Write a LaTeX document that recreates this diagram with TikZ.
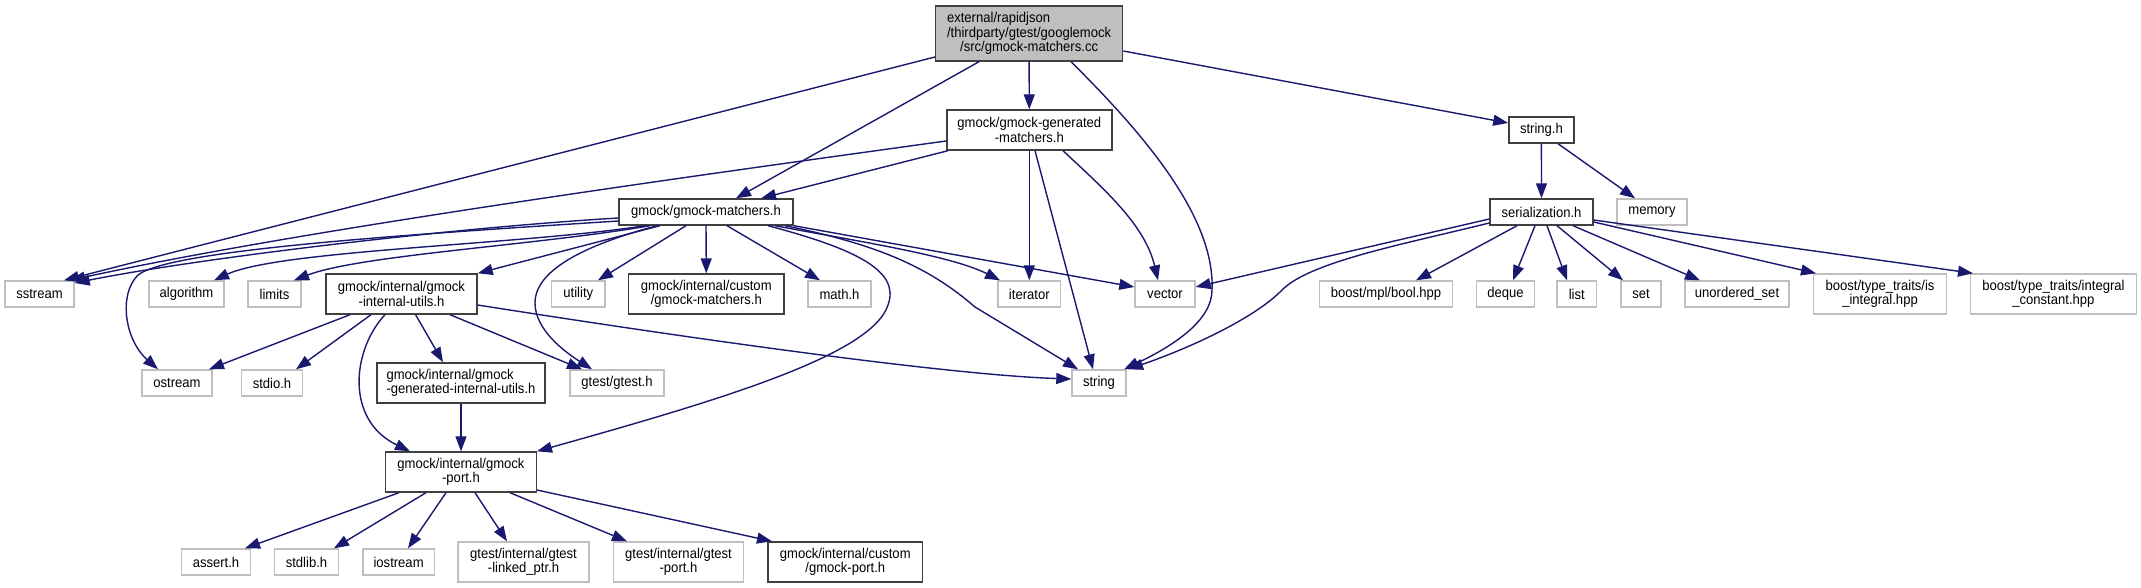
\documentclass[tikz,border=0pt]{standalone}
\usepackage{fontspec}
\setmainfont{Liberation Sans}[FakeStretch=0.92]
\usetikzlibrary{arrows.meta,calc}
\definecolor{edgecol}{HTML}{191970}
\definecolor{docborder}{HTML}{404040}
\definecolor{extborder}{HTML}{BFBFBF}
\definecolor{rootfill}{HTML}{BFBFBF}
\tikzset{
  basebox/.style={rectangle, line width=1.4pt, inner sep=0pt, align=center,
    font=\fontsize{14.2}{14.6}\selectfont, text=black},
  docbox/.style={basebox, draw=docborder, fill=white},
  extbox/.style={basebox, draw=extborder, fill=white},
  rootbox/.style={basebox, draw=docborder, fill=rootfill},
  dep/.style={draw=edgecol, line width=1.4pt, -{Triangle[length=15pt,width=11pt]}},
}
\newcommand{\bx}[7]{\node[#1, minimum width=#5pt, minimum height=#6pt] (#2) at (#3,#4) {#7};}
\begin{document}
\begin{tikzpicture}[x=1pt,y=-1pt]
\useasboundingbox (0,0) rectangle (2141,588);
% nodes
\bx{rootbox}{root}{1029.1}{33.5}{187}{55}{\makebox[0pt][l]{external/rapidjson}\phantom{/thirdparty/gtest/googlemock}\\/thirdparty/gtest/googlemock\\/src/gmock-matchers.cc}
\bx{docbox}{gen}{1029.3}{130}{165}{40}{gmock/gmock-generated\\-matchers.h}
\bx{docbox}{stringh}{1541.4}{130}{65}{26}{string.h}
\bx{docbox}{matchers}{706}{212}{174}{26}{gmock/gmock-matchers.h}
\bx{docbox}{serial}{1541.5}{212}{103}{26}{serialization.h}
\bx{extbox}{memory}{1652}{212}{70}{26}{memory}
\bx{extbox}{sstream}{39.5}{294}{69}{26}{sstream}
\bx{extbox}{algorithm}{186.5}{294}{75}{26}{algorithm}
\bx{extbox}{limits}{274.5}{294}{53}{26}{limits}
\bx{docbox}{iutils}{401.5}{294}{151}{40}{gmock/internal/gmock\\-internal-utils.h}
\bx{extbox}{utility}{578.3}{294}{53.5}{26}{utility}
\bx{docbox}{cmatchers}{706.3}{294}{155.4}{40}{gmock/internal/custom\\/gmock-matchers.h}
\bx{extbox}{math}{839.5}{294}{63}{26}{math.h}
\bx{extbox}{iterator}{1029.3}{294}{62.5}{26}{iterator}
\bx{extbox}{vector}{1165}{294}{60}{26}{vector}
\bx{extbox}{bool}{1386}{294}{132.5}{26}{boost/mpl/bool.hpp}
\bx{extbox}{deque}{1505.4}{294}{57.6}{26}{deque}
\bx{extbox}{list}{1576.8}{294}{39.6}{26}{list}
\bx{extbox}{set}{1641}{294}{40}{26}{set}
\bx{extbox}{uset}{1737}{294}{104}{26}{unordered\_set}
\bx{extbox}{isint}{1880}{294}{133}{40}{boost/type\_traits/is\\\_integral.hpp}
\bx{extbox}{intc}{2053.4}{294}{166}{40}{boost/type\_traits/integral\\\_constant.hpp}
\bx{extbox}{ostream}{177}{383}{70}{26}{ostream}
\bx{extbox}{stdio}{272}{383}{61}{26}{stdio.h}
\bx{docbox}{giutils}{461}{383}{168}{40}{\makebox[0pt][l]{gmock/internal/gmock}\phantom{-generated-internal-utils.h}\\-generated-internal-utils.h}
\bx{extbox}{gtest}{617}{383}{94}{26}{gtest/gtest.h}
\bx{extbox}{string}{1099}{383}{54}{26}{string}
\bx{docbox}{port}{461}{472}{150.6}{40}{gmock/internal/gmock\\-port.h}
\bx{extbox}{assert}{216}{562}{69.3}{26}{assert.h}
\bx{extbox}{stdlib}{306.5}{562}{64}{26}{stdlib.h}
\bx{extbox}{iostream}{398.6}{562}{71.6}{26}{iostream}
\bx{extbox}{linked}{523.5}{562}{131}{40}{gtest/internal/gtest\\-linked\_ptr.h}
\bx{extbox}{gport}{678.5}{562}{130}{40}{gtest/internal/gtest\\-port.h}
\bx{docbox}{cport}{845.3}{562}{154.7}{40}{gmock/internal/custom\\/gmock-port.h}
% root edges
\draw[dep] (root.west |- 0,57) -- (sstream.north -| 64,0);
\draw[dep] (root.south -| 979,0) -- (matchers.north -| 736,0);
\draw[dep] (root.south) -- (gen.north);
\draw[dep] (root.south -| 1071,0) .. controls (1150,140) and (1215,220) .. (1212,290) .. controls (1212,320) and (1175,345) .. (string.north -| 1124,0);
\draw[dep] (root.east |- 0,51) -- (stringh.west |- 0,123);
% gen edges
\draw[dep] (gen.west |- 0,141) .. controls (700,175) and (300,230) .. (sstream.north -| 70,0);
\draw[dep] (gen.south -| 948,0) -- (matchers.north -| 761,0);
\draw[dep] (gen.south -| 1029.3,0) -- (iterator.north -| 1029.3,0);
\draw[dep] (gen.south -| 1035,0) -- (string.north -| 1093,0);
\draw[dep] (gen.south -| 1063,0) .. controls (1105,190) and (1145,225) .. (vector.north -| 1158,0);
% matchers edges
\draw[dep] (matchers.west |- 0,218) .. controls (450,228) and (200,258) .. (sstream.east |- 0,283);
\draw[dep] (matchers.west |- 0,221) .. controls (400,235) and (170,250) .. (138,275) .. controls (118,295) and (125,340) .. (ostream.north -| 158,0);
\draw[dep] (matchers.south -| 645,0) .. controls (520,245) and (280,250) .. (algorithm.north -| 214,0);
\draw[dep] (matchers.south -| 650,0) .. controls (540,245) and (360,255) .. (limits.north -| 294,0);
\draw[dep] (matchers.south -| 660,0) -- (iutils.north east);
\draw[dep] (matchers.south -| 657,0) .. controls (585,245) and (535,270) .. (535,303) .. controls (535,330) and (565,352) .. (gtest.north -| 592,0);
\draw[dep] (matchers.south -| 686,0) -- (utility.north -| 598,0);
\draw[dep] (matchers.south) -- (cmatchers.north);
\draw[dep] (matchers.south -| 727,0) -- (math.north -| 820,0);
\draw[dep] (matchers.south -| 775,0) .. controls (850,240) and (950,255) .. (iterator.north -| 1000,0);
\draw[dep] (matchers.south east) -- (vector.west |- 0,287);
\draw[dep] (matchers.south -| 785,0) .. controls (880,245) and (930,268) .. (975,307) -- (string.north -| 1078,0);
\draw[dep] (matchers.south -| 768,0) .. controls (860,250) and (900,272) .. (888,305) .. controls (872,355) and (720,400) .. (port.north east);
% iutils edges
\draw[dep] (iutils.south -| 350,0) -- (ostream.north -| 209,0);
\draw[dep] (iutils.south -| 371,0) -- (stdio.north -| 296,0);
\draw[dep] (iutils.south -| 385,0) .. controls (352,350) and (345,420) .. (port.north -| 410,0);
\draw[dep] (iutils.south -| 415.6,0) -- (giutils.north -| 443,0);
\draw[dep] (iutils.south -| 450,0) -- (gtest.north -| 582,0);
\draw[dep] (iutils.east |- 0,305) .. controls (700,340) and (950,375) .. (string.west |- 0,379);
% giutils
\draw[dep] (giutils.south) -- (port.north);
% port edges
\draw[dep] (port.south -| 399,0) -- (assert.north -| 245,0);
\draw[dep] (port.south -| 426,0) -- (stdlib.north -| 334,0);
\draw[dep] (port.south -| 446,0) -- (iostream.north -| 408,0);
\draw[dep] (port.south -| 475,0) -- (linked.north -| 507,0);
\draw[dep] (port.south -| 510,0) -- (gport.north -| 627,0);
\draw[dep] (port.east |- 0,490) -- (cport.north -| 772,0);
% string.h edges
\draw[dep] (stringh.south) -- (serial.north);
\draw[dep] (stringh.south -| 1558,0) -- (memory.north -| 1635,0);
% serialization edges
\draw[dep] (serial.west |- 0,219) -- (vector.east |- 0,287);
\draw[dep] (serial.west |- 0,223) .. controls (1400,245) and (1310,262) .. (1282,290) .. controls (1255,318) and (1190,348) .. (string.north -| 1128,0);
\draw[dep] (serial.south -| 1517,0) -- (bool.north -| 1416,0);
\draw[dep] (serial.south -| 1535,0) -- (deque.north -| 1513,0);
\draw[dep] (serial.south -| 1547,0) -- (list.north -| 1567,0);
\draw[dep] (serial.south -| 1557,0) -- (set.north -| 1623,0);
\draw[dep] (serial.south -| 1573,0) -- (uset.north -| 1700,0);
\draw[dep] (serial.east |- 0,222) -- (isint.north -| 1816,0);
\draw[dep] (serial.east |- 0,220) -- (intc.north -| 1973,0);
\end{tikzpicture}
\end{document}
